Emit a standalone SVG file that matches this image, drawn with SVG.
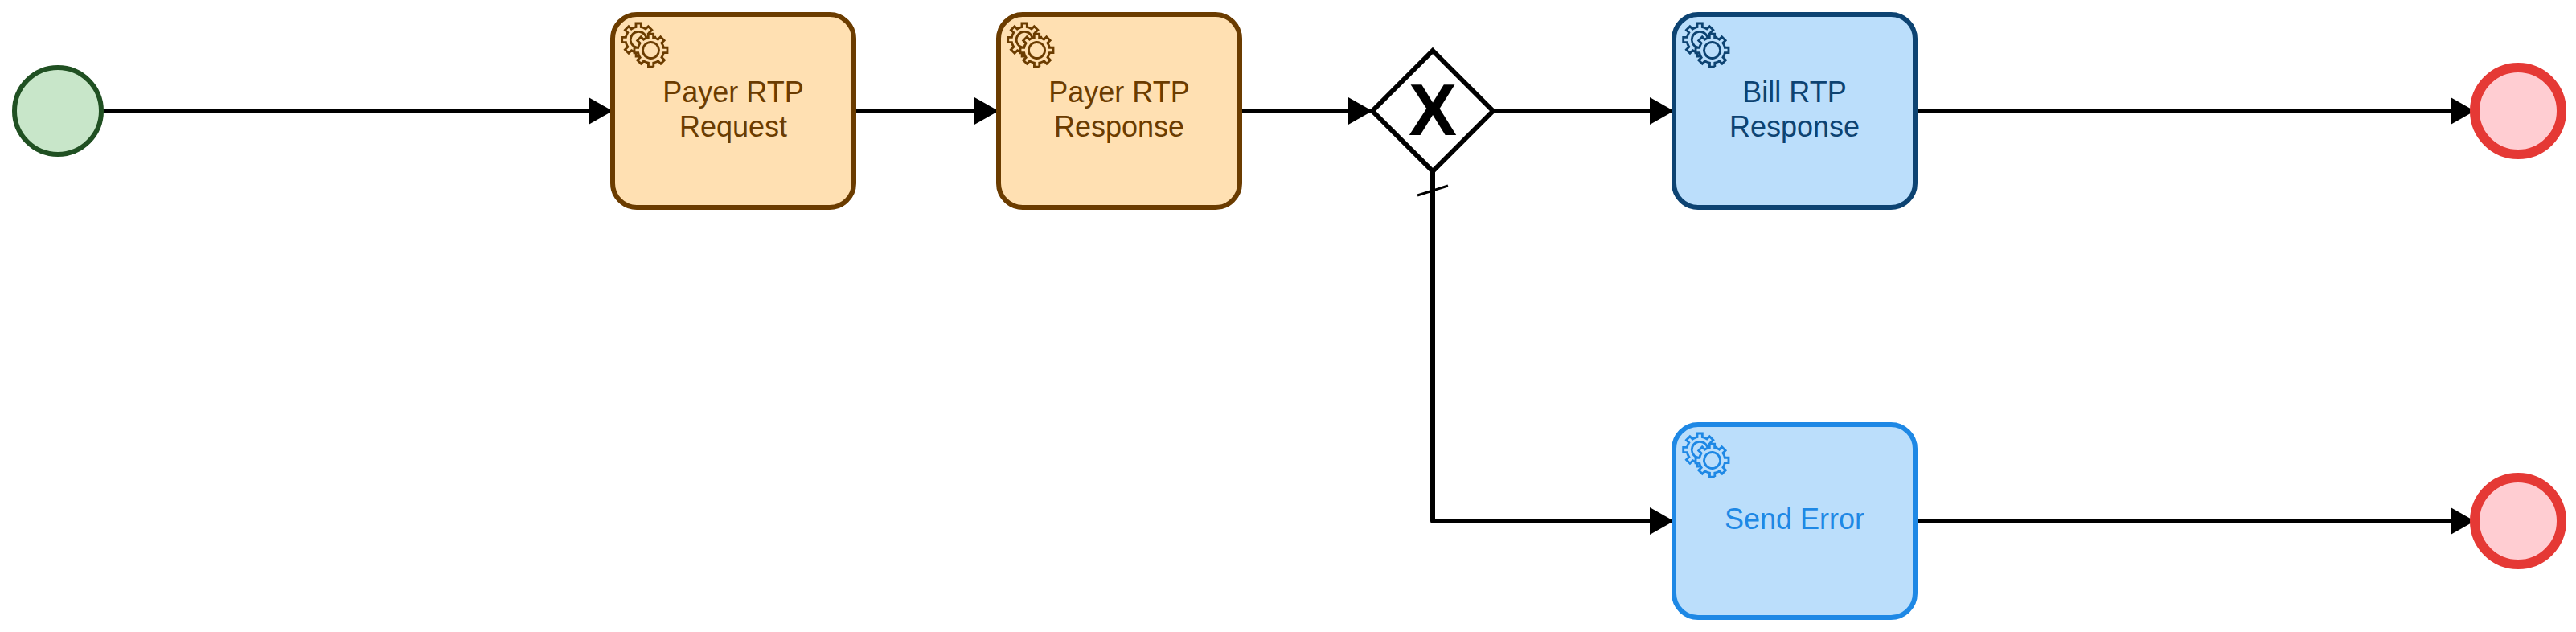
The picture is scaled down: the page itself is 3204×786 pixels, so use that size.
<svg xmlns="http://www.w3.org/2000/svg" width="3204" height="786" viewBox="0 0 3204 786">
<style>
text{font-family:"Liberation Sans",Arial,sans-serif;font-size:36px;text-anchor:middle}
.flow{fill:none;stroke:#000;stroke-width:6;stroke-linejoin:round}
.task{stroke-width:6}
.orange .task{fill:#ffe0b2;stroke:#6b3c00}.orange text{fill:#6b3c00}.orange{color:#6b3c00;--f:#ffe0b2}
.navy .task{fill:#bbdefb;stroke:#0d4372}.navy text{fill:#0d4372}.navy{color:#0d4372;--f:#bbdefb}
.blue .task{fill:#bbdefb;stroke:#1e88e5}.blue text{fill:#1e88e5}.blue{color:#1e88e5;--f:#bbdefb}
.gear{fill:var(--f);stroke:currentColor;stroke-width:1}
.hub{fill:var(--f);stroke:none}
.end{fill:#ffcdd2;stroke:#e53935;stroke-width:12}
</style>
<defs>
<marker id="arrow" markerUnits="userSpaceOnUse" markerWidth="30" markerHeight="34" refX="30" refY="17" orient="auto"><path d="M0 0L30 17L0 34Z" fill="#000"/></marker>
<g id="g"><circle class="hub" cx="-1.16" cy="-7.2" r="4.5"/><path class="gear" d="m 0,0 v -1.71335 c 0.352326,-0.0705 0.703932,-0.17838 1.047628,-0.32133 0.344416,-0.14465 0.665822,-0.32133 0.966377,-0.52145 l 1.19431,1.18005 1.567487,-1.57688 -1.195028,-1.18014 c 0.403376,-0.61394 0.683079,-1.29908 0.825447,-2.01824 l 1.622133,-0.01 v -2.2196 l -1.636514,0.01 c -0.07333,-0.35153 -0.178319,-0.70024 -0.323564,-1.04372 -0.145244,-0.34406 -0.321407,-0.6644 -0.522735,-0.96217 l 1.131035,-1.13631 -1.583305,-1.56293 -1.129598,1.13589 c -0.614052,-0.40108 -1.302883,-0.68093 -2.022633,-0.82247 l 0.0093,-1.61852 h -2.241173 l 0.0042,1.63124 c -0.353763,0.0736 -0.705369,0.17977 -1.049785,0.32371 -0.344415,0.14437 -0.665102,0.32092 -0.9635006,0.52046 l -1.1698628,-1.15823 -1.5667691,1.5792 1.1684265,1.15669 c -0.4026573,0.61283 -0.68308,1.29797 -0.8247287,2.01713 l -1.6588041,0.003 v 2.22174 l 1.6724648,-0.006 c 0.073327,0.35077 0.1797598,0.70243 0.3242851,1.04472 0.1452428,0.34448 0.3214064,0.6644 0.5227339,0.96066 l -1.1993431,1.19723 1.5840256,1.56011 1.1964668,-1.19348 c 0.6140517,0.40346 1.3028827,0.68232 2.0233517,0.82331 l 7.19e-4,1.69892 h 2.226848 z m 0.221462,-3.9957 c -1.788948,0.7502 -3.8576,-0.0928 -4.6097055,-1.87438 -0.7521065,-1.78321 0.090598,-3.84627 1.8802645,-4.59604 1.78823,-0.74936 3.856881,0.0929 4.608987,1.87437 0.752106,1.78165 -0.0906,3.84612 -1.879546,4.59605 z"/></g>
<g id="gears"><use href="#g" transform="translate(35.5 52) scale(2.85)"/><use href="#g" transform="translate(50.8 65.1) scale(2.85)"/></g>
</defs>
<g id="connectors">
<path class="flow" marker-end="url(#arrow)" d="M126 138H762"/>
<path class="flow" marker-end="url(#arrow)" d="M1062 138H1242"/>
<path class="flow" marker-end="url(#arrow)" d="M1542 138H1707"/>
<path class="flow" marker-end="url(#arrow)" d="M1857 138H2082"/>
<path class="flow" marker-end="url(#arrow)" d="M2382 138H3078"/>
<path class="flow" marker-end="url(#arrow)" d="M1782 213V648H2082"/>
<path class="flow" marker-end="url(#arrow)" d="M2382 648H3078"/>
<path d="M1763 243L1801 231" stroke="#000" stroke-width="3" fill="none"/>
</g>
<g id="start"><circle cx="72" cy="138" r="54" fill="#c8e6c9" stroke="#205022" stroke-width="6"/></g>
<g id="task-payer-request" class="orange"><rect class="task" x="762" y="18" width="300" height="240" rx="30"/><use href="#gears" x="762" y="18"/><text x="912" y="127">Payer RTP</text><text x="912" y="170">Request</text></g>
<g id="task-payer-response" class="orange"><rect class="task" x="1242" y="18" width="300" height="240" rx="30"/><use href="#gears" x="1242" y="18"/><text x="1392" y="127">Payer RTP</text><text x="1392" y="170">Response</text></g>
<g id="gateway"><polygon points="1782,63 1857,138 1782,213 1707,138" fill="#fff" stroke="#000" stroke-width="6"/><text x="1782" y="168" style="font-size:90px;font-weight:700;fill:#000">X</text></g>
<g id="task-bill-response" class="navy"><rect class="task" x="2082" y="18" width="300" height="240" rx="30"/><use href="#gears" x="2082" y="18"/><text x="2232" y="127">Bill RTP</text><text x="2232" y="170">Response</text></g>
<g id="task-send-error" class="blue"><rect class="task" x="2082" y="528" width="300" height="240" rx="30"/><use href="#gears" x="2082" y="528"/><text x="2232" y="658">Send Error</text></g>
<g id="end-1"><circle class="end" cx="3132" cy="138" r="54"/></g>
<g id="end-2"><circle class="end" cx="3132" cy="648" r="54"/></g>
</svg>
